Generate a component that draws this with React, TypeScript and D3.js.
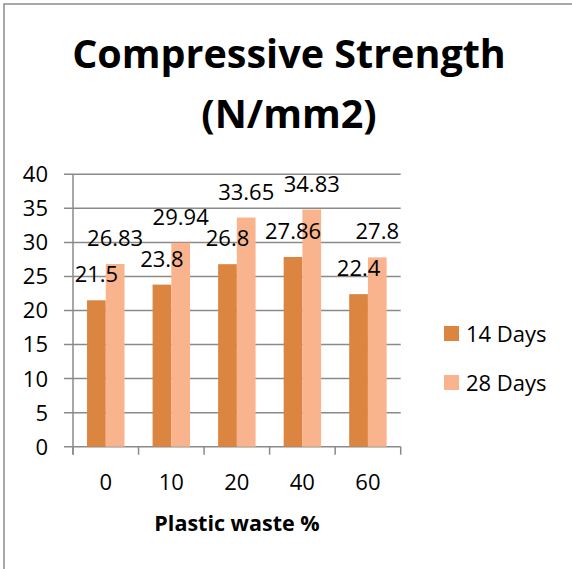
import React from "react";
import * as d3 from "d3";

const categories = ["0", "10", "20", "40", "60"];
const seriesNames = ["14 Days", "28 Days"];
const days14 = [21.5, 23.8, 26.8, 27.86, 22.4];
const days28 = [26.83, 29.94, 33.65, 34.83, 27.8];
const yTicks = [0, 5, 10, 15, 20, 25, 30, 35, 40];
const colors = ["#DB8540", "#F9B48E"];

const W = 572;
const H = 569;
const FONT = "'Open Sans', 'Noto Sans', sans-serif";

export default function App() {
  const x = d3.scaleBand<string>().domain(categories).range([73, 400.7]).paddingInner(0).paddingOuter(0);
  const bw = x.bandwidth();
  const barW = bw / 3.5;
  const gap = bw - 2 * barW;
  const xs = d3.scaleBand<string>().domain(seriesNames).range([gap / 2, bw - gap / 2]);
  const y = d3.scaleLinear().domain([0, 40]).range([446.7, 174.3]);
  const values = [days14, days28];
  const gridColor = "#8A8A8A";
  const boundaries = categories.map((c) => x(c) as number).concat([x.range()[1]]);

  return (
    <svg width={W} height={H} style={{ position: "absolute", left: 0, top: 0, background: "#fff" }} fontFamily={FONT}>
      <rect x={0} y={0} width={W} height={H} fill="#fff" />
      <rect x={4} y={4} width={W + 20} height={H + 20} fill="none" stroke="#8C8C8C" strokeWidth={1.5} />
      <text x={289} y={68} textAnchor="middle" fontSize={39.5} fontWeight={700} fill="#000">Compressive Strength</text>
      <text x={289} y={128} textAnchor="middle" fontSize={39.5} fontWeight={700} fill="#000">(N/mm2)</text>

      {yTicks.map((t) => (
        <g key={t}>
          <line x1={64} x2={400.7} y1={y(t)} y2={y(t)} stroke={gridColor} strokeWidth={1.5} />
          <text x={48} y={y(t)} dy="0.36em" textAnchor="end" fontSize={22} fill="#000">{t}</text>
        </g>
      ))}
      <line x1={73} x2={73} y1={y(40)} y2={y(0) + 8} stroke={gridColor} strokeWidth={1.5} />
      {boundaries.map((b, i) => (
        <line key={i} x1={b} x2={b} y1={y(0)} y2={y(0) + 8} stroke={gridColor} strokeWidth={1.5} />
      ))}

      {categories.map((c, i) => (
        <g key={c} transform={`translate(${x(c)},0)`}>
          {seriesNames.map((s, j) => (
            <rect key={s} x={xs(s)} y={y(values[j][i])} width={xs.bandwidth()} height={y(0) - y(values[j][i])} fill={colors[j]} />
          ))}
          {seriesNames.map((s, j) => (
            <text key={s + "l"} x={(xs(s) as number) + xs.bandwidth() / 2} y={y(values[j][i]) - 18} textAnchor="middle" fontSize={22} fill="#000">{values[j][i]}</text>
          ))}
          <text x={bw / 2} y={490} textAnchor="middle" fontSize={22} fill="#000">{c}</text>
        </g>
      ))}

      <text x={237} y={530.7} textAnchor="middle" fontSize={21.5} fontWeight={700} fill="#000">Plastic waste %</text>

      {seriesNames.map((s, j) => (
        <g key={s} transform={`translate(444,${326 + j * 49})`}>
          <rect x={0} y={0} width={15} height={15} fill={colors[j]} />
          <text x={22} y={15.5} fontSize={22} fill="#000">{s}</text>
        </g>
      ))}
    </svg>
  );
}
